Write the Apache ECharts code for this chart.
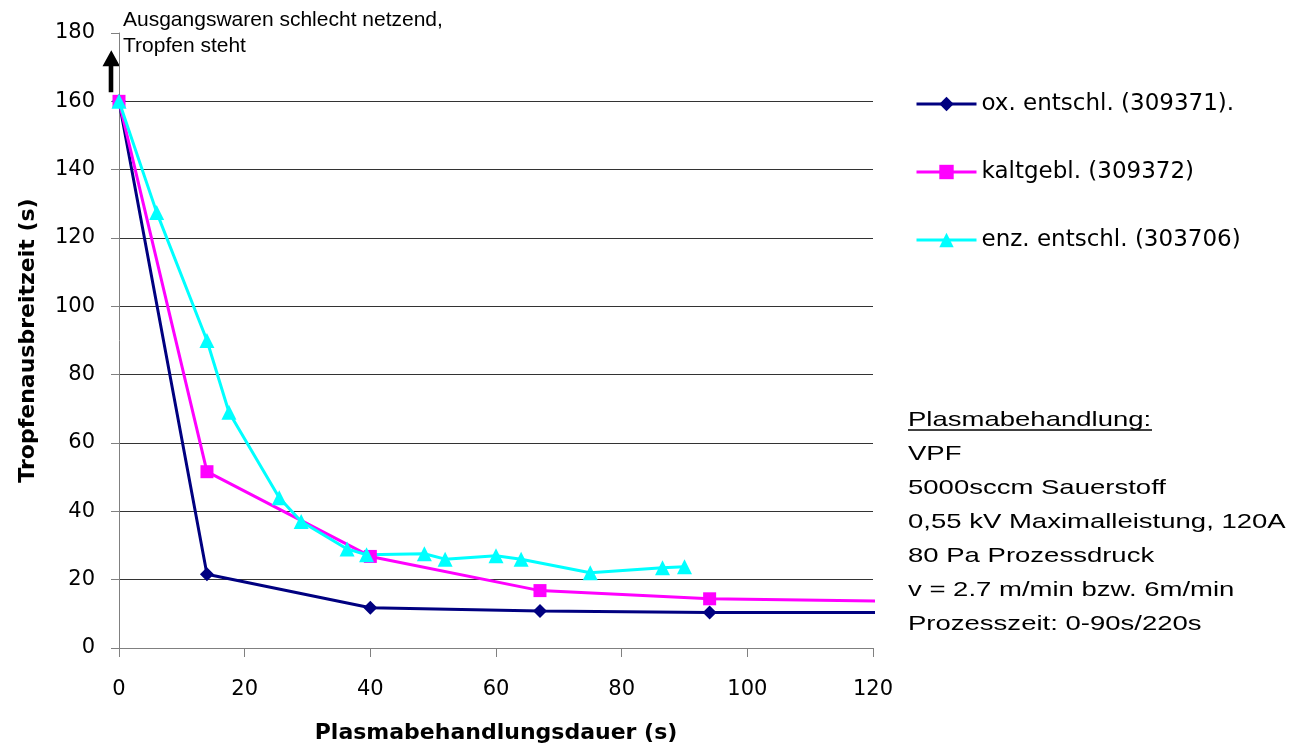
<!DOCTYPE html>
<html>
<head>
<meta charset="utf-8">
<script src="https://cdn.jsdelivr.net/npm/echarts@6/dist/echarts.min.js"></script>
<style>
  html, body { margin: 0; padding: 0; background: #fff; }
  #chart { width: 1305px; height: 749px; }
</style>
</head>
<body>
<div id="chart"></div>
<script>
// Treatment time (s) and drop spreading time (s) per fabric
const oxX  = [0, 14, 40, 67, 94, 220];
const oxY  = [160, 21.6, 11.8, 10.8, 10.4, 10.5];

const kaltX = [0, 14, 40, 67, 94, 220];
const kaltY = [160, 51.6, 26.8, 16.8, 14.4, 11.2];

const enzX = [0, 6, 14, 17.5, 25.5, 29, 36.3, 39.4, 48.6, 51.9, 60, 64, 75, 86.5, 90];
const enzY = [160, 127.5, 90, 69, 44, 37, 29, 27.3, 27.6, 26, 27, 26, 22, 23.5, 23.8];

const seriesNames = ['ox. entschl. (309371).', 'kaltgebl. (309372)', 'enz. entschl. (303706)'];

const xTicks = { min: 0, max: 120, interval: 20 };
const yTicks = { min: 0, max: 180, interval: 20 };

const noteTop = ['Ausgangswaren schlecht netzend,', 'Tropfen steht'];
const noteHeading = 'Plasmabehandlung:';
const noteLines = [
  'VPF',
  '5000sccm Sauerstoff',
  '0,55 kV Maximalleistung, 120A',
  '80 Pa Prozessdruck',
  'v = 2.7 m/min bzw. 6m/min',
  'Prozesszeit: 0-90s/220s'
];

const pairs = (xs, ys) => xs.map((x, i) => [x, ys[i]]);

const FONT = '"DejaVu Sans", sans-serif';
const ARIAL = '"Liberation Sans", Arial, sans-serif';

const chart = echarts.init(document.getElementById('chart'), null, { renderer: 'canvas' });

const lineSeries = (name, data, color, symbol, size) => ({
  name,
  type: 'line',
  data,
  symbol,
  symbolSize: size,
  showAllSymbol: true,
  clip: true,
  lineStyle: { color, width: 3 },
  itemStyle: { color, borderWidth: 0 },
  emphasis: { disabled: true }
});

chart.setOption({
  animation: false,
  backgroundColor: '#ffffff',
  grid: { left: 119, right: 432, top: 33, bottom: 101 },
  legend: {
    orient: 'vertical',
    left: 910,
    top: 87,
    itemWidth: 60,
    itemHeight: 18,
    itemGap: 44,
    selectedMode: false,
    lineStyle: { width: 3 },
    textStyle: { fontFamily: FONT, fontSize: 23, lineHeight: 24, color: '#000' },
    data: seriesNames
  },
  xAxis: {
    type: 'value',
    min: xTicks.min, max: xTicks.max, interval: xTicks.interval,
    name: 'Plasmabehandlungsdauer (s)',
    nameLocation: 'middle',
    nameGap: 74,
    nameTextStyle: { fontFamily: FONT, fontSize: 22, fontWeight: 'bold', color: '#000' },
    axisLine: { show: true, onZero: false, lineStyle: { color: '#808080', width: 1 } },
    axisTick: { show: true, inside: false, length: 9, lineStyle: { color: '#808080' } },
    axisLabel: { fontFamily: FONT, fontSize: 21, color: '#000', margin: 31 },
    splitLine: { show: false }
  },
  yAxis: {
    type: 'value',
    min: yTicks.min, max: yTicks.max, interval: yTicks.interval,
    name: 'Tropfenausbreitzeit (s)',
    nameLocation: 'middle',
    nameGap: 80,
    nameTextStyle: { fontFamily: FONT, fontSize: 22, fontWeight: 'bold', color: '#000' },
    axisLine: { show: true, lineStyle: { color: '#808080', width: 1 } },
    axisTick: { show: true, inside: false, length: 8, lineStyle: { color: '#808080' } },
    axisLabel: { fontFamily: FONT, fontSize: 21, color: '#000', margin: 24 },
    splitLine: { show: true, showMinLine: false, showMaxLine: false, lineStyle: { color: '#333333', width: 1 } }
  },
  series: [
    lineSeries(seriesNames[0], pairs(oxX, oxY), '#000080', 'diamond', 14),
    lineSeries(seriesNames[1], pairs(kaltX, kaltY), '#ff00ff', 'rect', 13),
    lineSeries(seriesNames[2], pairs(enzX, enzY), '#00ffff', 'triangle', 15)
  ]
});

// Annotations: arrow above the start value and the process description
const origin = chart.convertToPixel({ gridIndex: 0 }, [0, 160]);
const ax = origin[0] - 8;
const ay = origin[1];

chart.setOption({
  graphic: [
    {
      type: 'polygon',
      silent: true,
      shape: {
        points: [
          [ax - 2.3, ay - 9], [ax - 2.3, ay - 35], [ax - 8.5, ay - 35],
          [ax + 0.3, ay - 51], [ax + 9, ay - 35], [ax + 2.3, ay - 35],
          [ax + 2.3, ay - 9]
        ]
      },
      style: { fill: '#000' }
    },
    {
      type: 'text',
      silent: true,
      x: 123, y: 7,
      style: {
        text: noteTop.join('\n'),
        font: '21px ' + ARIAL,
        lineHeight: 26,
        fill: '#000',
        verticalAlign: 'top',
        align: 'left'
      }
    },
    {
      type: 'text',
      silent: true,
      x: 908, y: 403,
      scaleX: 1.31,
      style: {
        text: [noteHeading].concat(noteLines).join('\n'),
        font: '21px ' + ARIAL,
        lineHeight: 34,
        fill: '#000',
        verticalAlign: 'top',
        align: 'left'
      }
    },
    {
      type: 'line',
      silent: true,
      shape: { x1: 908, y1: 430, x2: 1152, y2: 430 },
      style: { stroke: '#000', lineWidth: 1.5 }
    }
  ]
});
</script>
</body>
</html>
